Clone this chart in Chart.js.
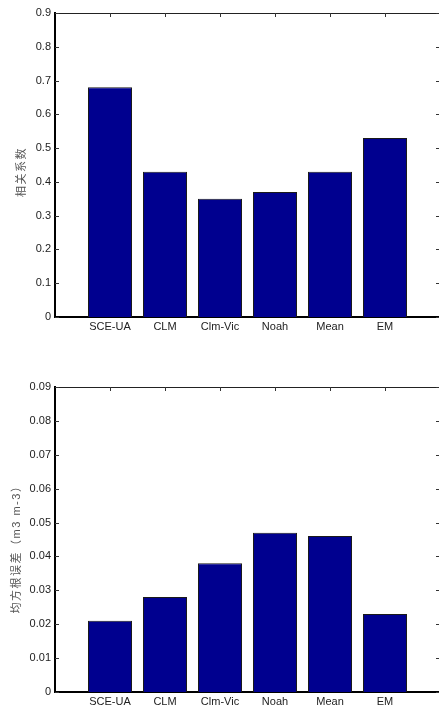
<!DOCTYPE html>
<html>
<head>
<meta charset="utf-8">
<script src="https://cdn.jsdelivr.net/npm/chart.js@4.4.0/dist/chart.umd.min.js"></script>
<style>
  html, body { margin: 0; padding: 0; background: #fff; overflow: hidden; width: 439px; height: 709px; }
  canvas { position: absolute; left: 0; }
  #c1 { top: 0; }
  #c2 { top: 374px; }
</style>
</head>
<body>
<canvas id="c1" width="441" height="345" style="width:441px;height:345px"></canvas>
<canvas id="c2" width="441" height="335" style="width:441px;height:335px"></canvas>
<script>
// ---- data ----
const categories = ['SCE-UA', 'CLM', 'Clm-Vic', 'Noah', 'Mean', 'EM'];
const corrValues = [0.68, 0.43, 0.35, 0.37, 0.43, 0.53];
const rmseValues = [0.021, 0.028, 0.038, 0.047, 0.046, 0.023];
const corrTicks = [0, 0.1, 0.2, 0.3, 0.4, 0.5, 0.6, 0.7, 0.8, 0.9];
const rmseTicks = [0, 0.01, 0.02, 0.03, 0.04, 0.05, 0.06, 0.07, 0.08, 0.09];
const corrTitle = '相关系数';
const rmseTitle = '均方根误差（m3 m-3）';

const BAR_FILL = '#00008f';
const BAR_EDGE = '#1a1a1a';
const TXT = '#222';
const FONT = '"Liberation Sans", Arial, sans-serif';

const frameTicks = {
  id: 'frameTicks',
  afterDraw(chart) {
    const ctx = chart.ctx;
    const a = chart.chartArea;
    const ys = chart.scales.y, xs = chart.scales.x;
    ctx.save();
    ctx.strokeStyle = '#222';
    ctx.lineWidth = 1;
    ctx.beginPath();
    ctx.moveTo(a.left, Math.round(a.top) + 0.5);
    ctx.lineTo(a.right, Math.round(a.top) + 0.5);
    ctx.moveTo(Math.round(a.right) - 0.5, a.top);
    ctx.lineTo(Math.round(a.right) - 0.5, a.bottom);
    ctx.stroke();
    ctx.strokeStyle = '#333';
    ctx.beginPath();
    ys.ticks.forEach((t) => {
      const y = Math.round(ys.getPixelForValue(t.value)) + 0.5;
      ctx.moveTo(a.left, y); ctx.lineTo(a.left + 4, y);
      ctx.moveTo(a.right, y); ctx.lineTo(a.right - 4, y);
    });
    categories.forEach((c, i) => {
      const x = Math.round(xs.getPixelForValue(i + 1)) + 0.5;
      ctx.moveTo(x, a.top); ctx.lineTo(x, a.top + 4);
    });
    ctx.stroke();
    ctx.restore();
  }
};

function spacedTitle(s) {
  if (s._spacedTitle) return;
  s._spacedTitle = true;
  const orig = s.drawTitle.bind(s);
  s.drawTitle = function () {
    const ctx = this.ctx;
    ctx.save();
    ctx.translate(0, 7);
    ctx.letterSpacing = '1.5px';
    orig();
    ctx.restore();
  };
}

function makeChart(id, values, tickVals, title, decimals, titlePad, xHeight) {
  const maxV = tickVals[tickVals.length - 1];
  return new Chart(document.getElementById(id), {
    type: 'bar',
    data: {
      datasets: [{
        data: values.map((v, i) => ({ x: i + 1, y: v })),
        backgroundColor: BAR_FILL,
        borderColor: BAR_EDGE,
        borderWidth: 1,
        barPercentage: 0.8,
        categoryPercentage: 1.0
      }]
    },
    options: {
      responsive: false,
      animation: false,
      events: [],
      layout: { padding: { left: 0, top: 13, right: 1, bottom: 0 } },
      plugins: { legend: { display: false }, tooltip: { enabled: false } },
      scales: {
        x: {
          type: 'linear',
          offset: false,
          min: 0,
          max: categories.length + 1,
          afterBuildTicks: (s) => { s.ticks = categories.map((c, i) => ({ value: i + 1 })); },
          afterFit: (s) => { s.height = xHeight; },
          grid: { display: false, drawTicks: false, offset: false },
          border: { display: true, color: '#000', width: 2 },
          ticks: {
            autoSkip: false,
            maxRotation: 0,
            padding: 3,
            color: TXT,
            font: { family: FONT, size: 11 },
            callback: (v) => categories[Math.round(v) - 1] || ''
          }
        },
        y: {
          min: 0,
          max: maxV,
          afterBuildTicks: (s) => { s.ticks = tickVals.map((v) => ({ value: v })); },
          afterFit: (s) => { s.width = 55; spacedTitle(s); },
          grid: { display: false, drawTicks: false },
          border: { display: true, color: '#000', width: 2 },
          ticks: {
            padding: 4,
            color: TXT,
            font: { family: FONT, size: 11 },
            callback: (v) => (v === 0 ? '0' : v.toFixed(decimals))
          },
          title: {
            display: true,
            text: title,
            color: '#555',
            padding: { top: titlePad, bottom: 0 },
            font: { family: '"Liberation Sans", "Noto Sans CJK SC", sans-serif', size: 11 }
          }
        }
      }
    },
    plugins: [frameTicks]
  });
}

makeChart('c1', corrValues, corrTicks, corrTitle, 1, 15, 28);
makeChart('c2', rmseValues, rmseTicks, rmseTitle, 2, 10.5, 17);
</script>
</body>
</html>
